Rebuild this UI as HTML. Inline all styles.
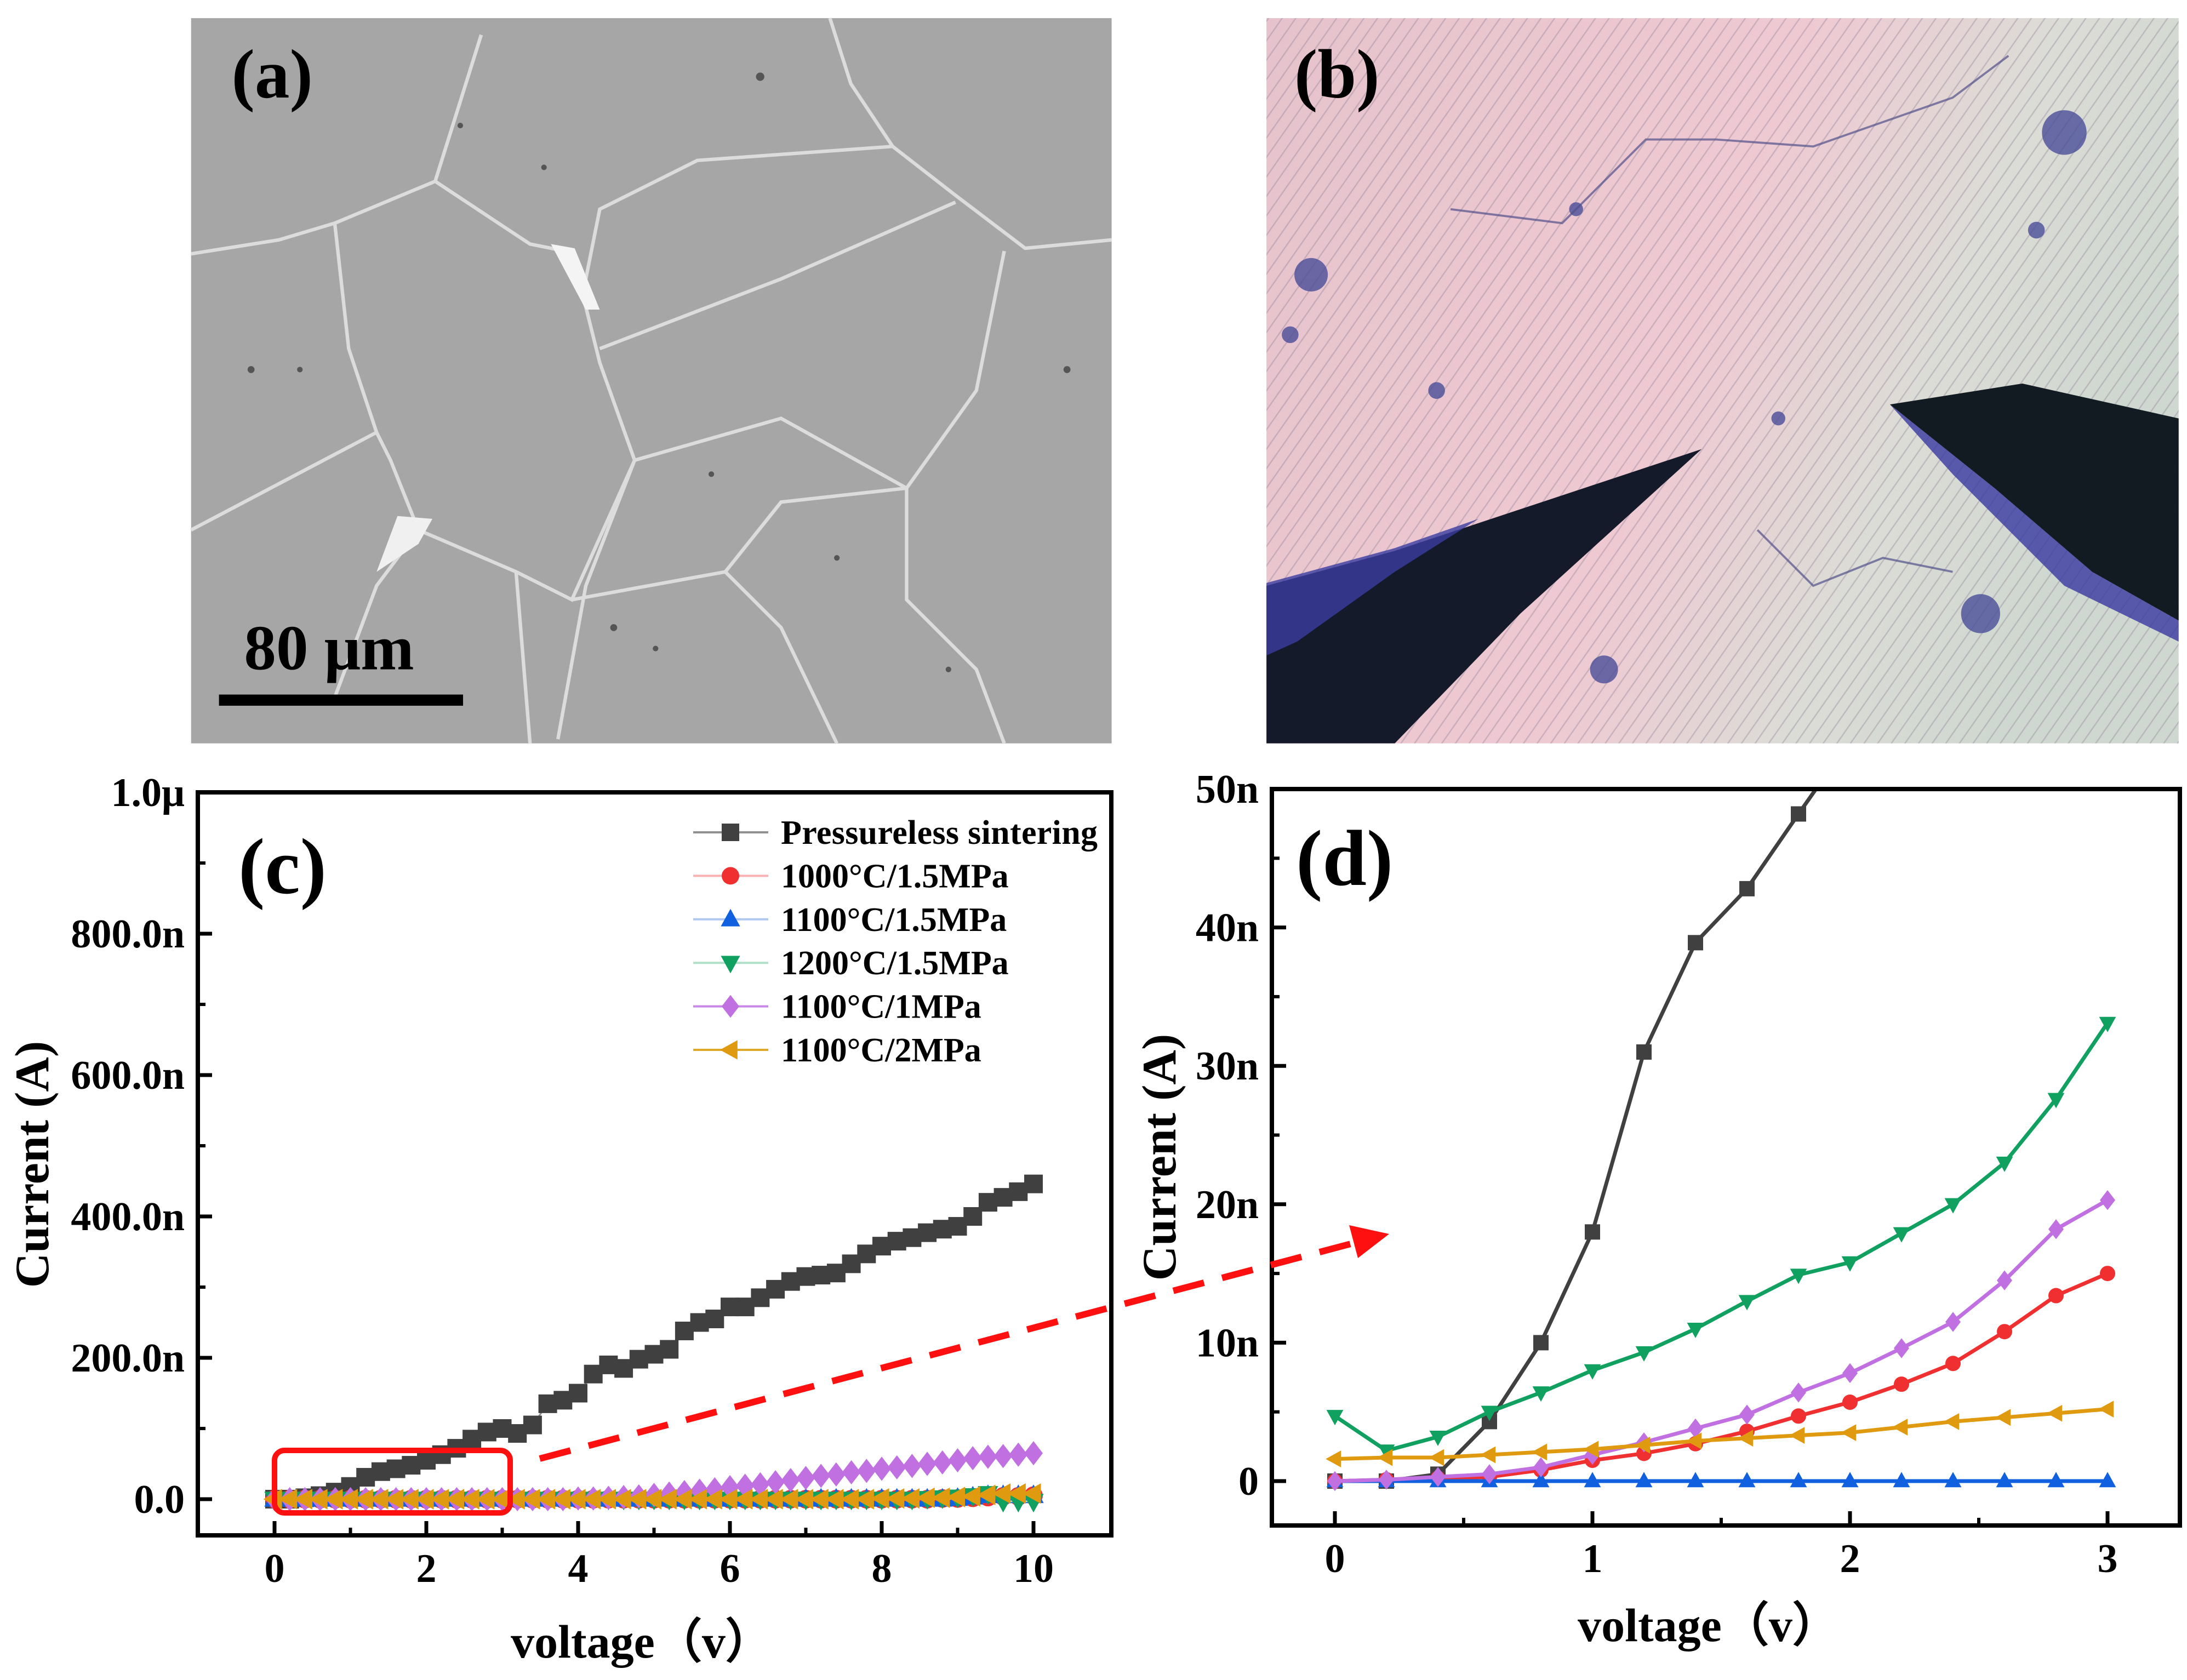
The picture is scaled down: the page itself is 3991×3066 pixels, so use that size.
<!DOCTYPE html>
<html><head><meta charset="utf-8"><style>
html,body{margin:0;padding:0;background:#fff;}
svg text{font-family:"Liberation Serif",serif;font-weight:bold;}
</style></head><body>
<svg id="fig" xmlns="http://www.w3.org/2000/svg" width="3991" height="3061" viewBox="0 0 3991 3061">
<defs>
<linearGradient id="gb" x1="0" y1="0" x2="1" y2="0.3">
<stop offset="0" stop-color="#e6c3cc"/><stop offset="0.55" stop-color="#efc9d2"/><stop offset="0.8" stop-color="#dcdcd6"/><stop offset="1" stop-color="#cfd8d0"/>
</linearGradient>
<pattern id="hatch" width="8" height="8" patternUnits="userSpaceOnUse" patternTransform="rotate(35)">
<rect width="8" height="8" fill="none"/><line x1="0" y1="0" x2="0" y2="8" stroke="#8a7a90" stroke-width="2" opacity="0.35"/>
</pattern>
</defs>
<g transform="scale(2.5453)">
<g>
<rect x="137" y="13" width="660" height="520" fill="#a6a6a6"/>
<g fill="none" stroke="#dcdcdc" stroke-width="2.5">
<polyline points="137,182 200,172 240,160 312,130 380,175 405,180 420,220"/>
<polyline points="312,130 345,25"/>
<polyline points="420,200 430,150 500,115 640,105 685,140 735,178 797,172"/>
<polyline points="640,105 610,60 595,13"/>
<polyline points="420,220 430,260 455,330 420,420 400,530"/>
<polyline points="430,250 560,200 685,145"/>
<polyline points="455,330 560,300 650,350 700,280 720,180"/>
<polyline points="137,380 270,310 280,330 300,380 370,410 410,430 455,330"/>
<polyline points="270,310 250,250 240,160"/>
<polyline points="300,380 270,420 240,500"/>
<polyline points="650,350 650,430 700,480 720,533"/>
<polyline points="520,410 560,450 600,533"/>
<polyline points="410,430 520,410 560,360 650,350"/>
<polyline points="370,410 380,533"/>
</g>
<polygon points="395,175 412,178 430,222 420,222" fill="#f4f4f4"/>
<polygon points="285,370 310,372 300,390 270,410" fill="#f0f0f0"/>
<g fill="#555">
<circle cx="545" cy="55" r="3"/><circle cx="180" cy="265" r="2.5"/><circle cx="215" cy="265" r="2"/><circle cx="510" cy="340" r="2"/><circle cx="440" cy="450" r="2.5"/><circle cx="470" cy="465" r="2"/><circle cx="765" cy="265" r="2.5"/><circle cx="680" cy="480" r="2"/><circle cx="600" cy="400" r="2"/><circle cx="330" cy="90" r="2"/><circle cx="390" cy="120" r="2"/>
</g>
<text x="166" y="70" font-size="50" fill="#000">(a)</text>
<text x="175" y="480" font-size="46" fill="#000">80 μm</text>
<rect x="157" y="498" width="175" height="8" fill="#000"/>
</g>
<g>
<rect x="908" y="13" width="654" height="520" fill="url(#gb)"/>
<rect x="908" y="13" width="654" height="520" fill="url(#hatch)"/>
<g fill="#4a4d98" opacity="0.8">
<circle cx="940" cy="197" r="12"/><circle cx="925" cy="240" r="6"/><circle cx="1130" cy="150" r="5"/><circle cx="1275" cy="300" r="5"/><circle cx="1420" cy="440" r="14"/><circle cx="1480" cy="95" r="16"/><circle cx="1460" cy="165" r="6"/><circle cx="1150" cy="480" r="10"/><circle cx="1030" cy="280" r="6"/>
</g>
<g fill="none" stroke="#50508a" stroke-width="1.5" opacity="0.7">
<polyline points="1040,150 1120,160 1180,100 1230,100 1300,105 1400,70 1440,40"/>
<polyline points="1260,380 1300,420 1350,400 1400,410"/>
</g>
<polygon points="908,420 1000,395 1220,322 1090,440 1000,533 908,533" fill="#141a2a"/>
<polygon points="908,418 1000,393 1060,372 1000,410 930,460 908,470" fill="#3a3ca0" opacity="0.8"/>
<polygon points="1355,290 1450,275 1562,300 1562,445 1500,410 1430,350" fill="#121a22"/>
<polygon points="1355,290 1430,350 1500,410 1562,445 1562,460 1480,420 1400,340" fill="#3838a0" opacity="0.8"/>
<text x="928" y="70" font-size="50" fill="#000">(b)</text>
</g>
</g>
<g id="chartC"></g>
<g id="chartD"></g>
</svg>
<script>
const NS="http://www.w3.org/2000/svg";
// ---- data ----
const xC=[];for(let i=0;i<=50;i++)xC.push(+(i*0.2).toFixed(1));
const cBlack=[0,0,2,5,10,18,31,39,43,48,55,63,72,85,95,100,93,105,135,140,150,177,190,185,198,205,212,238,250,255,272,272,285,297,308,315,317,320,333,347,358,365,370,377,382,386,400,420,427,435,446];
const cRed=[0,0,0,0,0,0,0,0,0,0,0,0,0,0,0,0,0,0,0,0,0,0,0,0,0,0,0,0,0,0,0,0,0,0,0,0,0,0,0,0,0,0,0,0,1,1,2,3,4,4,5];
const cBlue=[0,0,0,0,0,0,0,0,0,0,0,0,0,0,0,0,0,0,0,0,0,0,0,0,0,0,0,0,0,0,0,0,0,0,0,0,0,0,0,0,0,0,0,0,0,1,3,5,5,5,5];
const cGreen=[0,0,0,0,0,0,0,0,0,0,0,0,0,0,0,0,0,0,0,0,0,0,0,0,0,0,0,0,0,0,0,0,0,0,0,0,0,0,0,0,0,0,0,1,2,3,5,8,-3,-3,-3];
const cPurple=[0,0,0,0,0,0,0,0,0,0,0,0,0,0,0,0,0,0,0,0,1,1,2,3,4,6,8,10,12,14,17,19,21,24,27,30,33,35,38,40,43,45,47,50,52,55,58,60,61,63,65];
const cOrange=[0,0,0,0,0,0,0,0,0,0,0,0,0,0,0,0,0,0,0,0,0,0,0,0,0,0,0,0,0,0,0,0,0,0,0,0,0,0,0,0,1,1,1,2,2,3,4,6,8,8,8];
const xD=[0,0.2,0.4,0.6,0.8,1.0,1.2,1.4,1.6,1.8,2.0,2.2,2.4,2.6,2.8,3.0];
const dBlack=[0,0,0.5,4.3,10,18,31,38.9,42.8,48.2,53.5,60,68,76,85,95];
const dRed=[0,0.1,0.2,0.3,0.8,1.5,2,2.7,3.6,4.7,5.7,7,8.5,10.8,13.4,15];
const dBlue=[0,0,0,0,0,0,0,0,0,0,0,0,0,0,0,0];
const dGreen=[4.7,2.2,3.2,5,6.4,8,9.3,11,13,14.9,15.8,17.9,20,23,27.6,33.1];
const dPurple=[0,0.1,0.3,0.5,1.0,1.9,2.8,3.8,4.8,6.4,7.8,9.6,11.5,14.5,18.2,20.3];
const dOrange=[1.6,1.7,1.7,1.9,2.1,2.3,2.6,2.9,3.1,3.3,3.5,3.9,4.3,4.6,4.9,5.2];
const cYTicks=[0,200,400,600,800,1000];
const cYLabels=["0.0","200.0n","400.0n","600.0n","800.0n","1.0μ"];
const cXTicks=[0,2,4,6,8,10];
const dYTicks=[0,10,20,30,40,50];
const dYLabels=["0","10n","20n","30n","40n","50n"];
const dXTicks=[0,1,2,3];
const seriesNames=["Pressureless sintering","1000°C/1.5MPa","1100°C/1.5MPa","1200°C/1.5MPa","1100°C/1MPa","1100°C/2MPa"];
const colors=["#404040","#f03030","#1060e0","#10a060","#c070e0","#e09a10"];
const markers=["square","circle","up","down","diamond","left"];

function el(tag,attrs,parent){const e=document.createElementNS(NS,tag);for(const k in attrs)e.setAttribute(k,attrs[k]);parent.appendChild(e);return e;}
function marker(g,type,x,y,s,fill){
  let e;
  if(type==="square")e=el("rect",{x:x-s,y:y-s,width:2*s,height:2*s,fill:fill},g);
  else if(type==="circle")e=el("circle",{cx:x,cy:y,r:s,fill:fill},g);
  else if(type==="up")e=el("polygon",{points:`${x},${y-s*1.2} ${x-s*1.1},${y+s*0.8} ${x+s*1.1},${y+s*0.8}`,fill:fill},g);
  else if(type==="down")e=el("polygon",{points:`${x},${y+s*1.2} ${x-s*1.1},${y-s*0.8} ${x+s*1.1},${y-s*0.8}`,fill:fill},g);
  else if(type==="diamond")e=el("polygon",{points:`${x},${y-s*1.3} ${x+s},${y} ${x},${y+s*1.3} ${x-s},${y}`,fill:fill},g);
  else e=el("polygon",{points:`${x-s*1.2},${y} ${x+s*0.8},${y-s*1.1} ${x+s*0.8},${y+s*1.1}`,fill:fill},g);
  return e;
}
function chart(g,o){
  const X=v=>o.px0+(v-o.x0)/(o.x1-o.x0)*(o.px1-o.px0);
  const Y=v=>o.py0+(v-o.y0)/(o.y1-o.y0)*(o.py1-o.py0);
  const clipId=o.id+"clip";
  const cp=el("clipPath",{id:clipId},g);el("rect",{x:o.L,y:o.T,width:o.R-o.L,height:o.B-o.T},cp);
  o.yt.forEach((v,i)=>{
    const t=el("line",{x1:o.L,x2:o.L+26,y1:Y(v),y2:Y(v),stroke:"#000","stroke-width":7},g);
    
    
    const lb=el("text",{x:o.L-24,y:Y(v)+25,"font-size":o.fs,"text-anchor":"end"},g);lb.textContent=o.yl[i];
    
    
    if(i<o.yt.length-1){const mv=(v+o.yt[i+1])/2;const m=el("line",{x1:o.L,x2:o.L+14,y1:Y(mv),y2:Y(mv),stroke:"#000","stroke-width":6},g);
      
      }
  });
  o.xt.forEach((v,i)=>{
    const t=el("line",{x1:X(v),x2:X(v),y1:o.B,y2:o.B-26,stroke:"#000","stroke-width":7},g);
    
    
    const lb=el("text",{x:X(v),y:o.B+85,"font-size":o.fs,"text-anchor":"middle"},g);lb.textContent=String(v);
    
    
    if(i<o.xt.length-1){const mv=(v+o.xt[i+1])/2;const m=el("line",{x1:X(mv),x2:X(mv),y1:o.B,y2:o.B-14,stroke:"#000","stroke-width":6},g);
      
      }
  });
  const sg=el("g",{"clip-path":`url(#${clipId})`},g);
  o.series.forEach((ys,si)=>{
    const s=el("g",{},sg);
    
    
    const pts=o.xs.map((x,i)=>X(x)+","+Y(ys[i])).join(" ");
    el("polyline",{points:pts,fill:"none",stroke:o.lineColors[si],"stroke-width":o.lw},s);
    o.xs.forEach((x,i)=>{const m=marker(s,markers[si],X(x),Y(ys[i]),o.ms,colors[si]);
      
      });
  });
  const fr=el("rect",{x:o.L,y:o.T,width:o.R-o.L,height:o.B-o.T,fill:"none",stroke:"#000","stroke-width":8},g);
  
  
  const yt=el("text",{x:0,y:0,"font-size":88,"text-anchor":"middle",transform:`translate(${o.ytx},${o.ytc}) rotate(-90)`},g);yt.textContent="Current (A)";
  
  
  const xt=el("text",{x:o.xtc,y:o.xty,"font-size":86,"text-anchor":"middle"},g);xt.textContent="voltage（v）";
  
  
  const pl=el("text",{x:o.plx,y:o.ply,"font-size":145},g);pl.textContent=o.label;
  
  
}
const gc=document.getElementById("chartC");
chart(gc,{id:"c",L:361,T:1446,R:2028,B:2802,px0:501,px1:1886,x0:0,x1:10,py0:2736,py1:1446,y0:0,y1:1000,
  yt:cYTicks,yl:cYLabels,xt:cXTicks,fs:74,xs:xC,series:[cBlack,cRed,cBlue,cGreen,cPurple,cOrange],
  lineColors:["#909090","#f8b0b0","#b0c8f0","#b0e0c8","#e0b0f0","#f0d090"],lw:3,ms:17,ytx:88,ytc:2125,xtc:1171,xty:3025,plx:435,ply:1630,label:"(c)"});
const gd=document.getElementById("chartD");
chart(gd,{id:"d",L:2321,T:1440,R:3978,B:2784,px0:2436,px1:3846,x0:0,x1:3,py0:2703,py1:1440,y0:0,y1:50,
  yt:dYTicks,yl:dYLabels,xt:dXTicks,fs:74,xs:xD,series:[dBlack,dRed,dBlue,dGreen,dPurple,dOrange],
  lineColors:colors,lw:7,ms:14,ytx:2145,ytc:2112,xtc:3118,xty:2995,plx:2365,ply:1615,label:"(d)"});
const lg=el("g",{},gc);


const lcol=["#909090","#f8b0b0","#b0c8f0","#b0e0c8","#c888e8","#e0a828"];
seriesNames.forEach((n,i)=>{
  const y=1519+i*79.4;
  const e=el("g",{},lg);
  
  
  el("line",{x1:1265,x2:1402,y1:y,y2:y,stroke:lcol[i],"stroke-width":4},e);
  marker(e,markers[i],1333,y,16,colors[i]);
  const t=el("text",{x:1425,y:y+21,"font-size":62},e);t.textContent=n;
  if(i===0)t.setAttribute("textLength","578");
});
const zb=el("rect",{x:501,y:2647,width:430,height:114,rx:18,fill:"none",stroke:"#ff1010","stroke-width":10},document.getElementById("fig"));


const ar=el("g",{},document.getElementById("fig"));


el("line",{x1:985,y1:2662,x2:2480,y2:2266,stroke:"#ff1010","stroke-width":12,"stroke-dasharray":"58,34"},ar);
el("polygon",{points:"2535,2252 2462,2236 2478,2296",fill:"#ff1010"},ar);
</script>
</body></html>
